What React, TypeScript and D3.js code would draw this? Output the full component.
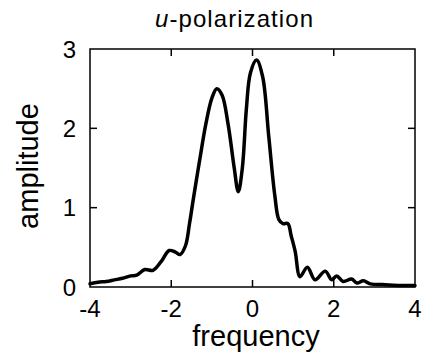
import React from "react";
import * as d3 from "d3";

const freq = [-4, -3.8, -3.6, -3.4, -3.2, -3.0, -2.85, -2.65, -2.45, -2.25, -2.05, -1.9, -1.78, -1.65, -1.55, -1.45, -1.3, -1.15, -1.0, -0.88, -0.75, -0.6, -0.45, -0.35, -0.25, -0.15, -0.05, 0.1, 0.25, 0.4, 0.55, 0.65, 0.75, 0.87, 0.95, 1.05, 1.17, 1.35, 1.54, 1.79, 1.95, 2.07, 2.23, 2.44, 2.57, 2.73, 2.9, 3.2, 3.6, 4.0];
const amp = [0.04, 0.06, 0.07, 0.09, 0.11, 0.14, 0.15, 0.22, 0.21, 0.32, 0.46, 0.44, 0.41, 0.52, 0.8, 1.13, 1.6, 2.05, 2.38, 2.5, 2.42, 2.05, 1.5, 1.2, 1.5, 2.25, 2.7, 2.86, 2.65, 1.9, 1.15, 0.85, 0.8, 0.8, 0.65, 0.45, 0.13, 0.25, 0.09, 0.2, 0.09, 0.14, 0.07, 0.1, 0.05, 0.08, 0.04, 0.03, 0.02, 0.02];
const xTicks = [-4, -2, 0, 2, 4];
const yTicks = [0, 1, 2, 3];

const W = 422, H = 352;
const L = 90, R = 415, T = 49, B = 287;
const FONT = "'Liberation Sans', Arial, Helvetica, sans-serif";

export default function App() {
  const x = d3.scaleLinear().domain([-4, 4]).range([L, R]);
  const y = d3.scaleLinear().domain([0, 3]).range([B, T]);
  const pts = freq.map((f, i) => [f, amp[i]] as [number, number]);
  const line = d3
    .line<[number, number]>()
    .x((d) => x(d[0]))
    .y((d) => y(d[1]))
    .curve(d3.curveCatmullRom.alpha(0.5));
  const tl = 7;
  return (
    <svg width={W} height={H} style={{ position: "absolute", left: 0, top: 0, background: "#fff" }}>
      <rect x={L} y={T} width={R - L} height={B - T} fill="none" stroke="#000" strokeWidth={1.5} />
      {xTicks.slice(1, -1).map((t) => (
        <g key={"xt" + t}>
          <line x1={x(t)} x2={x(t)} y1={B} y2={B - tl} stroke="#000" strokeWidth={1.5} />
          <line x1={x(t)} x2={x(t)} y1={T} y2={T + tl} stroke="#000" strokeWidth={1.5} />
        </g>
      ))}
      {yTicks.slice(1, -1).map((t) => (
        <g key={"yt" + t}>
          <line x1={L} x2={L + tl} y1={y(t)} y2={y(t)} stroke="#000" strokeWidth={1.5} />
          <line x1={R} x2={R - tl} y1={y(t)} y2={y(t)} stroke="#000" strokeWidth={1.5} />
        </g>
      ))}
      <path d={line(pts) || ""} fill="none" stroke="#000" strokeWidth={3.5} strokeLinejoin="round" strokeLinecap="round" />
      {xTicks.map((t) => (
        <text key={"xl" + t} x={x(t)} y={317} textAnchor="middle" fontFamily={FONT} fontSize={24} fill="#000">
          {t < 0 ? "-" + Math.abs(t) : String(t)}
        </text>
      ))}
      {yTicks.map((t) => (
        <text key={"yl" + t} x={76} y={y(t) + 8.5} textAnchor="end" fontFamily={FONT} fontSize={24} fill="#000">
          {t}
        </text>
      ))}
      <text x={256} y={346} textAnchor="middle" fontFamily={FONT} fontSize={29} fill="#000">frequency</text>
      <text transform={`translate(38,166) rotate(-90)`} textAnchor="middle" fontFamily={FONT} fontSize={29} fill="#000">amplitude</text>
      <text x={234} y={27} textAnchor="middle" fontFamily={FONT} fontSize={24} fill="#000" textLength={158} lengthAdjust="spacing">
        <tspan fontStyle="italic">u</tspan>-polarization
      </text>
    </svg>
  );
}
